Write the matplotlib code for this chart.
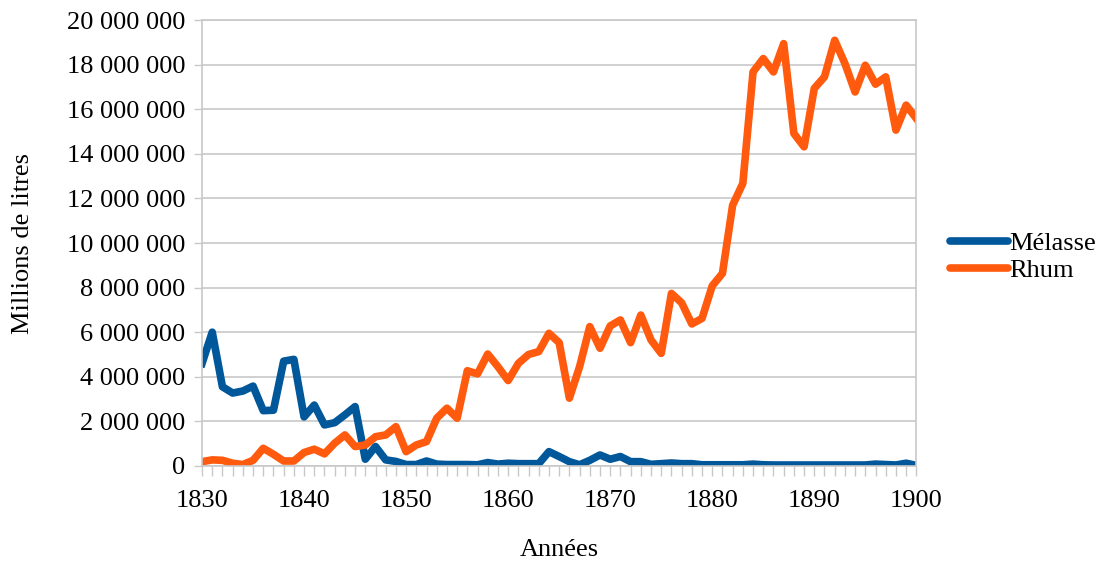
import numpy as np
import matplotlib
matplotlib.use("Agg")
import matplotlib.pyplot as plt
from matplotlib.ticker import FuncFormatter, MultipleLocator

plt.rcParams['font.family'] = ['Liberation Serif', 'DejaVu Serif']

annees = np.arange(1830, 1901)

melasse = [4.6, 6.0, 3.55, 3.27, 3.36, 3.58, 2.48, 2.5, 4.7, 4.78,
           2.2, 2.73, 1.84, 1.94, 2.29, 2.66, 0.3, 0.87, 0.27, 0.2,
           0.06, 0.06, 0.22, 0.08, 0.06, 0.06, 0.06, 0.05, 0.15, 0.08,
           0.12, 0.1, 0.1, 0.1, 0.64, 0.42, 0.19, 0.05, 0.25, 0.49,
           0.3, 0.42, 0.19, 0.19, 0.07, 0.1, 0.13, 0.1, 0.1, 0.05,
           0.05, 0.05, 0.05, 0.05, 0.08, 0.05, 0.04, 0.04, 0.04, 0.04,
           0.04, 0.04, 0.04, 0.04, 0.04, 0.04, 0.08, 0.06, 0.04, 0.12,
           0.02]

rhum = [0.19, 0.27, 0.25, 0.12, 0.06, 0.25, 0.79, 0.52, 0.22, 0.22,
        0.6, 0.75, 0.54, 1.02, 1.39, 0.87, 0.94, 1.31, 1.39, 1.76,
        0.64, 0.94, 1.09, 2.14, 2.59, 2.14, 4.27, 4.13, 5.02, 4.45,
        3.83, 4.6, 5.0, 5.13, 5.95, 5.53, 3.04, 4.45, 6.25, 5.28,
        6.28, 6.55, 5.53, 6.77, 5.65, 5.05, 7.74, 7.32, 6.37, 6.62,
        8.08, 8.64, 11.7, 12.68, 17.68, 18.28, 17.68, 18.95, 14.92, 14.32,
        16.94, 17.46, 19.1, 18.06, 16.78, 17.98, 17.13, 17.46, 15.07, 16.19,
        15.59]

melasse = np.array(melasse) * 1e6
rhum = np.array(rhum) * 1e6

fig = plt.figure(figsize=(11.04, 5.62), dpi=100)
ax = fig.add_axes([0.183, 0.171, 0.647, 0.793])

ax.plot(annees, melasse, color='#00579A', lw=5.5, label='Mélasse', solid_joinstyle='round')
ax.plot(annees, rhum, color='#FF5A0E', lw=5.5, label='Rhum', solid_joinstyle='round')

ax.set_xlim(1830, 1900)
ax.set_ylim(0, 20e6)
ax.xaxis.set_major_locator(MultipleLocator(10))
ax.xaxis.set_minor_locator(MultipleLocator(1))
ax.yaxis.set_major_locator(MultipleLocator(2e6))
ax.yaxis.set_major_formatter(FuncFormatter(lambda v, p: f"{int(v):,}".replace(",", " ")))

ax.grid(axis='y', color='#C8C8C8', lw=1.2)
ax.set_axisbelow(True)
for s in ['top', 'right', 'left', 'bottom']:
    ax.spines[s].set_color('#C8C8C8')
    ax.spines[s].set_linewidth(1.2)
ax.tick_params(axis='both', which='both', color='#C8C8C8', width=1, labelsize=19)
ax.tick_params(axis='x', which='major', length=7, pad=10)
ax.tick_params(axis='x', which='minor', length=7)
ax.tick_params(axis='y', length=6, pad=6)

ax.set_xlabel('Années', fontsize=19, labelpad=20)
ax.set_ylabel('Millions de litres', fontsize=19, labelpad=24)

leg = ax.legend(loc='center left', bbox_to_anchor=(1.047, 0.469), frameon=False,
                fontsize=19, handlelength=2.2, handletextpad=0.05, labelspacing=0.15,
                borderaxespad=0, borderpad=0)
for h in leg.get_lines():
    h.set_solid_capstyle('round')

fig.savefig('out.png', dpi=100)
